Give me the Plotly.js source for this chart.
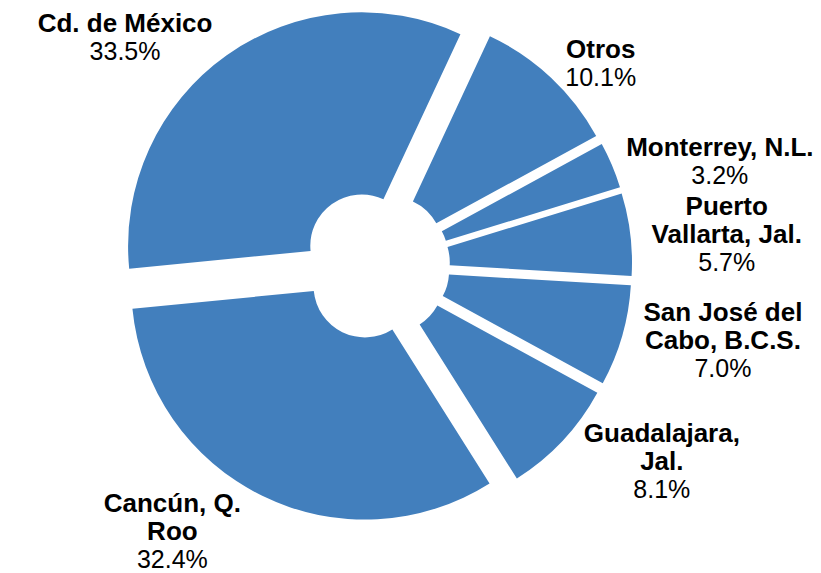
<!DOCTYPE html>
<html>
<head>
<meta charset="utf-8">
<script src="https://cdn.plot.ly/plotly-3.0.1.min.js"></script>
<style>
  html, body { margin: 0; padding: 0; background: #ffffff; }
  #chart { width: 821px; height: 573px; }
</style>
</head>
<body>
<div id="chart"></div>
<script>
// Destinos (en orden de las manecillas del reloj, empezando por "Otros")
const destinos = ['Otros', 'Monterrey, N.L.', 'Puerto<br>Vallarta, Jal.', 'San José del<br>Cabo, B.C.S.',
                  'Guadalajara,<br>Jal.', 'Cancún, Q.<br>Roo', 'Cd. de México'];
const porcentajes = [10.1, 3.2, 5.7, 7.0, 8.1, 32.4, 33.5];

// letra grande con interlineado apretado (el interlineado sigue a textfont.size)
const nombre = '<span style="font-size:26px"><b>%{label}</b></span>';
const valor = '<span style="font-size:25px">%{value:.1f}%</span>';

const trace = {
    type: 'pie',
    labels: destinos,
    values: porcentajes,
    sort: false,
    direction: 'clockwise',
    rotation: 25,
    hole: 0.22,
    pull: 0.1,
    marker: { colors: destinos.map(() => '#427FBD'), line: { width: 0 } },
    textposition: 'outside',
    texttemplate: nombre + '<br>' + valor,
    textfont: { family: 'Liberation Sans, Arial, sans-serif', size: 21.5, color: '#000000' },
    domain: { x: [0.144, 0.770], y: [0.089, 0.986] },
    automargin: false,
    showlegend: false
};

const layout = {
    width: 821,
    height: 573,
    margin: { t: 0, b: 0, l: 0, r: 0 },
    paper_bgcolor: '#ffffff',
    showlegend: false
};

Plotly.newPlot('chart', [trace], layout, { displayModeBar: false, staticPlot: true });
</script>
</body>
</html>
